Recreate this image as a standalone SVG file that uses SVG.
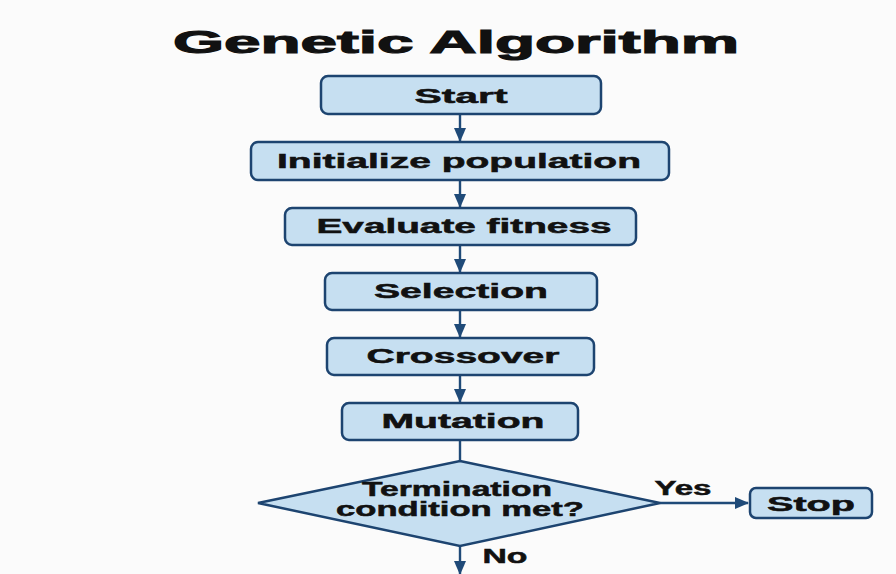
<svg xmlns="http://www.w3.org/2000/svg" width="896" height="574" viewBox="0 0 896 574">
  <defs>
    <marker id="arrow" viewBox="0 0 14 12" refX="13" refY="6" markerWidth="14" markerHeight="12" markerUnits="userSpaceOnUse" orient="auto">
      <path d="M0,0 L14,6 L0,12 Z" fill="#1f4a78"/>
    </marker>
    <style>
      .box { fill: #c6dff1; stroke: #1d4470; stroke-width: 2.5; }
      .lbl { font-family: "Liberation Sans", Arial, sans-serif; font-weight: bold; font-size: 20px; fill: #111; stroke: #111; stroke-width: 0.5; text-anchor: middle; }
      .edge { fill: none; stroke: #1f4a78; stroke-width: 2.4; }
    </style>
  </defs>
  <rect width="896" height="574" fill="#fbfbfb"/>

  <text x="456" y="53" class="lbl" style="font-size:32px;stroke-width:1.1" textLength="566" lengthAdjust="spacingAndGlyphs">Genetic Algorithm</text>

  <g id="edges">
    <line class="edge" x1="460" y1="114" x2="460" y2="141" marker-end="url(#arrow)"/>
    <line class="edge" x1="460" y1="180" x2="460" y2="207" marker-end="url(#arrow)"/>
    <line class="edge" x1="460" y1="245" x2="460" y2="272" marker-end="url(#arrow)"/>
    <line class="edge" x1="460" y1="310" x2="460" y2="337" marker-end="url(#arrow)"/>
    <line class="edge" x1="460" y1="375" x2="460" y2="402" marker-end="url(#arrow)"/>
    <line class="edge" x1="460" y1="440" x2="460" y2="461"/>
    <line class="edge" x1="660" y1="503" x2="748" y2="503" marker-end="url(#arrow)"/>
    <line class="edge" x1="460" y1="546" x2="460" y2="574" marker-end="url(#arrow)"/>
    <text x="683" y="495" class="lbl" textLength="57" lengthAdjust="spacingAndGlyphs">Yes</text>
    <text x="505" y="563" class="lbl" textLength="45" lengthAdjust="spacingAndGlyphs">No</text>
  </g>

  <g id="start">
    <rect class="box" x="321" y="76" width="280" height="38" rx="7"/>
    <text x="461" y="103" class="lbl" textLength="93" lengthAdjust="spacingAndGlyphs">Start</text>
  </g>
  <g id="init">
    <rect class="box" x="251" y="142" width="418" height="38" rx="7"/>
    <text x="459" y="168" class="lbl" textLength="364" lengthAdjust="spacingAndGlyphs">Initialize population</text>
  </g>
  <g id="evaluate">
    <rect class="box" x="285" y="208" width="351" height="37" rx="7"/>
    <text x="464" y="233" class="lbl" textLength="295" lengthAdjust="spacingAndGlyphs">Evaluate fitness</text>
  </g>
  <g id="selection">
    <rect class="box" x="325" y="273" width="272" height="37" rx="7"/>
    <text x="461" y="298" class="lbl" textLength="174" lengthAdjust="spacingAndGlyphs">Selection</text>
  </g>
  <g id="crossover">
    <rect class="box" x="327" y="338" width="267" height="37" rx="7"/>
    <text x="463" y="363" class="lbl" textLength="193" lengthAdjust="spacingAndGlyphs">Crossover</text>
  </g>
  <g id="mutation">
    <rect class="box" x="342" y="403" width="236" height="37" rx="7"/>
    <text x="463" y="428" class="lbl" textLength="163" lengthAdjust="spacingAndGlyphs">Mutation</text>
  </g>
  <g id="termination">
    <polygon class="box" points="460,461 660,503 460,546 258,503"/>
    <text x="457" y="496" class="lbl" textLength="190" lengthAdjust="spacingAndGlyphs">Termination</text>
    <text x="460" y="516" class="lbl" textLength="248" lengthAdjust="spacingAndGlyphs">condition met?</text>
  </g>
  <g id="stop">
    <rect class="box" x="750" y="488" width="122" height="30" rx="6"/>
    <text x="811" y="511" class="lbl" textLength="88" lengthAdjust="spacingAndGlyphs">Stop</text>
  </g>
</svg>
